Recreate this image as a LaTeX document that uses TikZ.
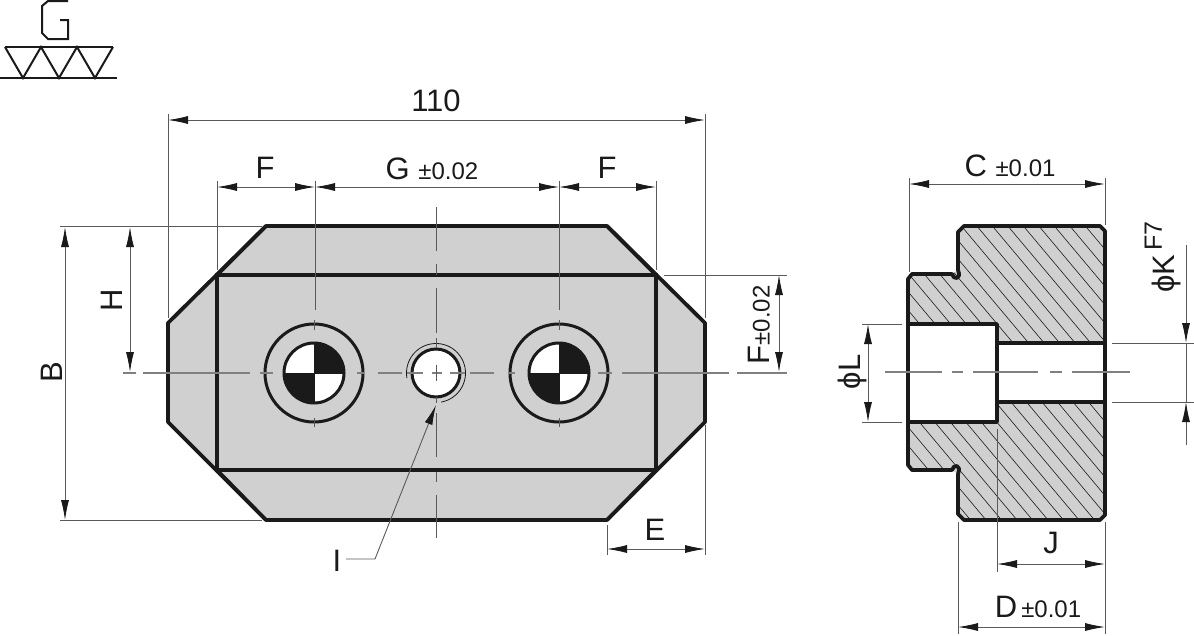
\documentclass[tikz,border=0pt]{standalone}
\usepackage{fontspec}
\setmainfont{Liberation Sans}
\usetikzlibrary{arrows.meta}
\definecolor{ink}{HTML}{1A1A1A}
\definecolor{body}{HTML}{D0D0D0}
\definecolor{thin}{HTML}{5A5A5A}
\definecolor{axis}{HTML}{808080}
\newcommand{\lblfont}{\fontsize{31}{34}\selectfont}
\newcommand{\tolfont}{\fontsize{24}{26}\selectfont}
\begin{document}
\begin{tikzpicture}[x=1pt, y=-1pt, >={Latex[length=20pt,width=8pt,color=ink]},
  outline/.style={draw=ink, line width=3.8pt, line join=round},
  contour/.style={draw=ink, line width=3.6pt},
  ring/.style={draw=ink, line width=3pt},
  lead/.style={draw=thin, line width=0.9pt},
  dim/.style={<->, lead},
  axisline/.style={draw=axis, line width=1.3pt},
  symbol/.style={draw=ink, line width=2pt},
  lbl/.style={inner sep=0pt, text=ink, font=\lblfont},
  hatch/.style={draw=ink, line width=0.6pt}]
  \useasboundingbox (0,0) rectangle (1194,635);

  % surface symbol
  \draw[symbol] (68,1) -- (48,1) -- (42,6) -- (42,33) -- (48,39) -- (68,39) -- (68,20) -- (60,20);
  \draw[symbol] (5,47) -- (113,47) (0,78) -- (117,78);
  \draw[symbol] (5,47) -- (23,78) -- (41,47) -- (59,78) -- (77,47) -- (95,78) -- (113,47);

  % front view
  \path[outline, fill=body] (266,226) -- (607,226) -- (705,323) -- (705,422) -- (607,520) -- (266,520) -- (168,422) -- (168,323) -- cycle;
  \draw[contour] (217,275) rectangle (656,470);
  \draw[contour] (217,275) -- (266,226) (656,275) -- (607,226) (217,470) -- (266,520) (656,470) -- (607,520);
  \foreach \cx in {314,559} {
    \draw[ring] (\cx,373) circle (49);
    \fill[white] (\cx,373) circle (30);
    \fill[ink] (\cx,373) -- (\cx-30,373) arc[start angle=180, end angle=90, radius=30] -- cycle;
    \fill[ink] (\cx,373) -- (\cx+30,373) arc[start angle=0, end angle=-90, radius=30] -- cycle;
    \draw[ring] (\cx,373) circle (30);
    \draw[ink, line width=1pt] (\cx-30,373) -- (\cx+30,373) (\cx,343) -- (\cx,403);
    \draw[lead] (\cx,320) -- (\cx,330) (\cx,418) -- (\cx,427);
  }
  \fill[white] (436,373) circle (24);
  \draw[ring] (436,373) circle (24);
  \draw[ink, line width=0.8pt] plot[domain=170:440, samples=60] ({436+29.5*cos(\x)},{373+29.5*sin(\x)});

  % section view
  \path[fill=body] (908,279) -- (912,274) -- (952,274) -- (958,270) -- (958,232) -- (964,226) -- (1100,226) -- (1105,231) -- (1105,515) -- (1100,520) -- (964,520) -- (958,514) -- (958,474) -- (952,470) -- (912,470) -- (908,465) -- cycle;
  \begin{scope}
    \clip (908,279) -- (912,274) -- (952,274) -- (958,270) -- (958,232) -- (964,226) -- (1100,226) -- (1105,231) -- (1105,515) -- (1100,520) -- (964,520) -- (958,514) -- (958,474) -- (952,470) -- (912,470) -- (908,465) -- cycle;
    \foreach \k in {-25,...,12} {
      \draw[hatch] ({955+15.5*\k},200) -- ({955+15.5*\k+144.5},372);
      \draw[hatch] ({970.3+15.5*\k},372) -- ({970.3+15.5*\k+141},540);
    }
  \end{scope}
  \path[fill=white] (909,324) -- (997,324) -- (997,343) -- (1105,343) -- (1105,402) -- (997,402) -- (997,422) -- (909,422) -- cycle;
  \draw[outline] (908,324) -- (997,324) -- (997,422) -- (908,422);
  \draw[outline] (997,343) -- (1105,343) (997,402) -- (1105,402);
  \draw[outline] (908,279) -- (912,274) -- (952,274) .. controls (953,280) and (962,280) .. (958,270) -- (958,232) -- (964,226) -- (1100,226) -- (1105,231) -- (1105,515) -- (1100,520) -- (964,520) -- (958,514) -- (958,474) .. controls (962,464) and (953,464) .. (952,470) -- (912,470) -- (908,465) -- cycle;

  % centre lines
  \foreach \a/\b in {123/136,143/250,260/273,357/364,378/402,407/423,432/442,450/465,470/494,508/515,598/612,622/729,737/787} {
    \draw[axisline] (\a,373) -- (\b,373);
  }
  \foreach \a/\b in {207/251,264/275,288/333,338/348,365/381,397/403,413/457,472/482,495/538} {
    \draw[lead] (436,\a) -- (436,\b);
  }
  \foreach \a/\b in {885/942,952/963,973/1038,1050/1062,1072/1130} {
    \draw[axisline] (\a,372) -- (\b,372);
  }

  % extension lines
  \draw[lead] (168,114) -- (168,318) (705,114) -- (705,318)
              (217,181) -- (217,270) (315,181) -- (315,310) (559,181) -- (559,310) (656,181) -- (656,270)
              (60,226) -- (262,226) (60,520) -- (262,520)
              (664,275) -- (787,275)
              (607,525) -- (607,555) (705,425) -- (705,555)
              (909,178) -- (909,272) (1105,178) -- (1105,225)
              (862,324) -- (902,324) (862,422) -- (902,422)
              (958,522) -- (958,634) (1105,522) -- (1105,634)
              (997,429) -- (997,572)
              (1112,343) -- (1194,343) (1112,402) -- (1194,402);

  % dimension lines
  \draw[dim] (168,120) -- (705,120);
  \draw[dim] (217,187) -- (315,187);
  \draw[dim] (315,187) -- (559,187);
  \draw[dim] (559,187) -- (656,187);
  \draw[dim] (65,227) -- (65,520);
  \draw[dim] (130,227) -- (130,372);
  \draw[dim] (779,275) -- (779,372);
  \draw[dim] (607,549) -- (705,549);
  \draw[dim] (909,184) -- (1105,184);
  \draw[dim] (868,324) -- (868,422);
  \draw[dim] (997,564) -- (1105,564);
  \draw[dim] (958,627) -- (1105,627);
  \draw[lead, <-] (1186,343) -- (1186,245);
  \draw[lead, <-] (1186,402) -- (1186,445);
  \draw[lead] (1186,343) -- (1186,402);

  % leader
  \draw[lead, <-] (436,405) -- (375,559) -- (346,559);

  % labels
  \node[lbl] (l110) at (436,101) {110};
  \node[lbl] (lf1)  at (265,168) {F};
  \node[lbl] (lg)   at (432,169) {G {\tolfont ±0.02}};
  \node[lbl] (lf2)  at (607,168) {F};
  \node[lbl, rotate=90] (lb) at (52,372) {B};
  \node[lbl, rotate=90] (lh) at (112,300) {H};
  \node[lbl, rotate=90] (lft) at (759,325) {F{\tolfont ±0.02}};
  \node[lbl] (le)   at (655,530) {E};
  \node[lbl] (li)   at (337,561) {I};
  \node[lbl] (lc)   at (1010,166) {C {\tolfont ±0.01}};
  \node[lbl, rotate=90] (ll) at (852,372) {ϕL};
  \node[lbl, rotate=90] (lk) at (1163,257) {ϕK\raisebox{13pt}{\fontsize{25}{27}\selectfont\,F7}};
  \node[lbl] (lj)   at (1051,543) {J};
  \node[lbl] (ld)   at (1038,607) {D{\tolfont\,±0.01}};
\end{tikzpicture}
\end{document}
